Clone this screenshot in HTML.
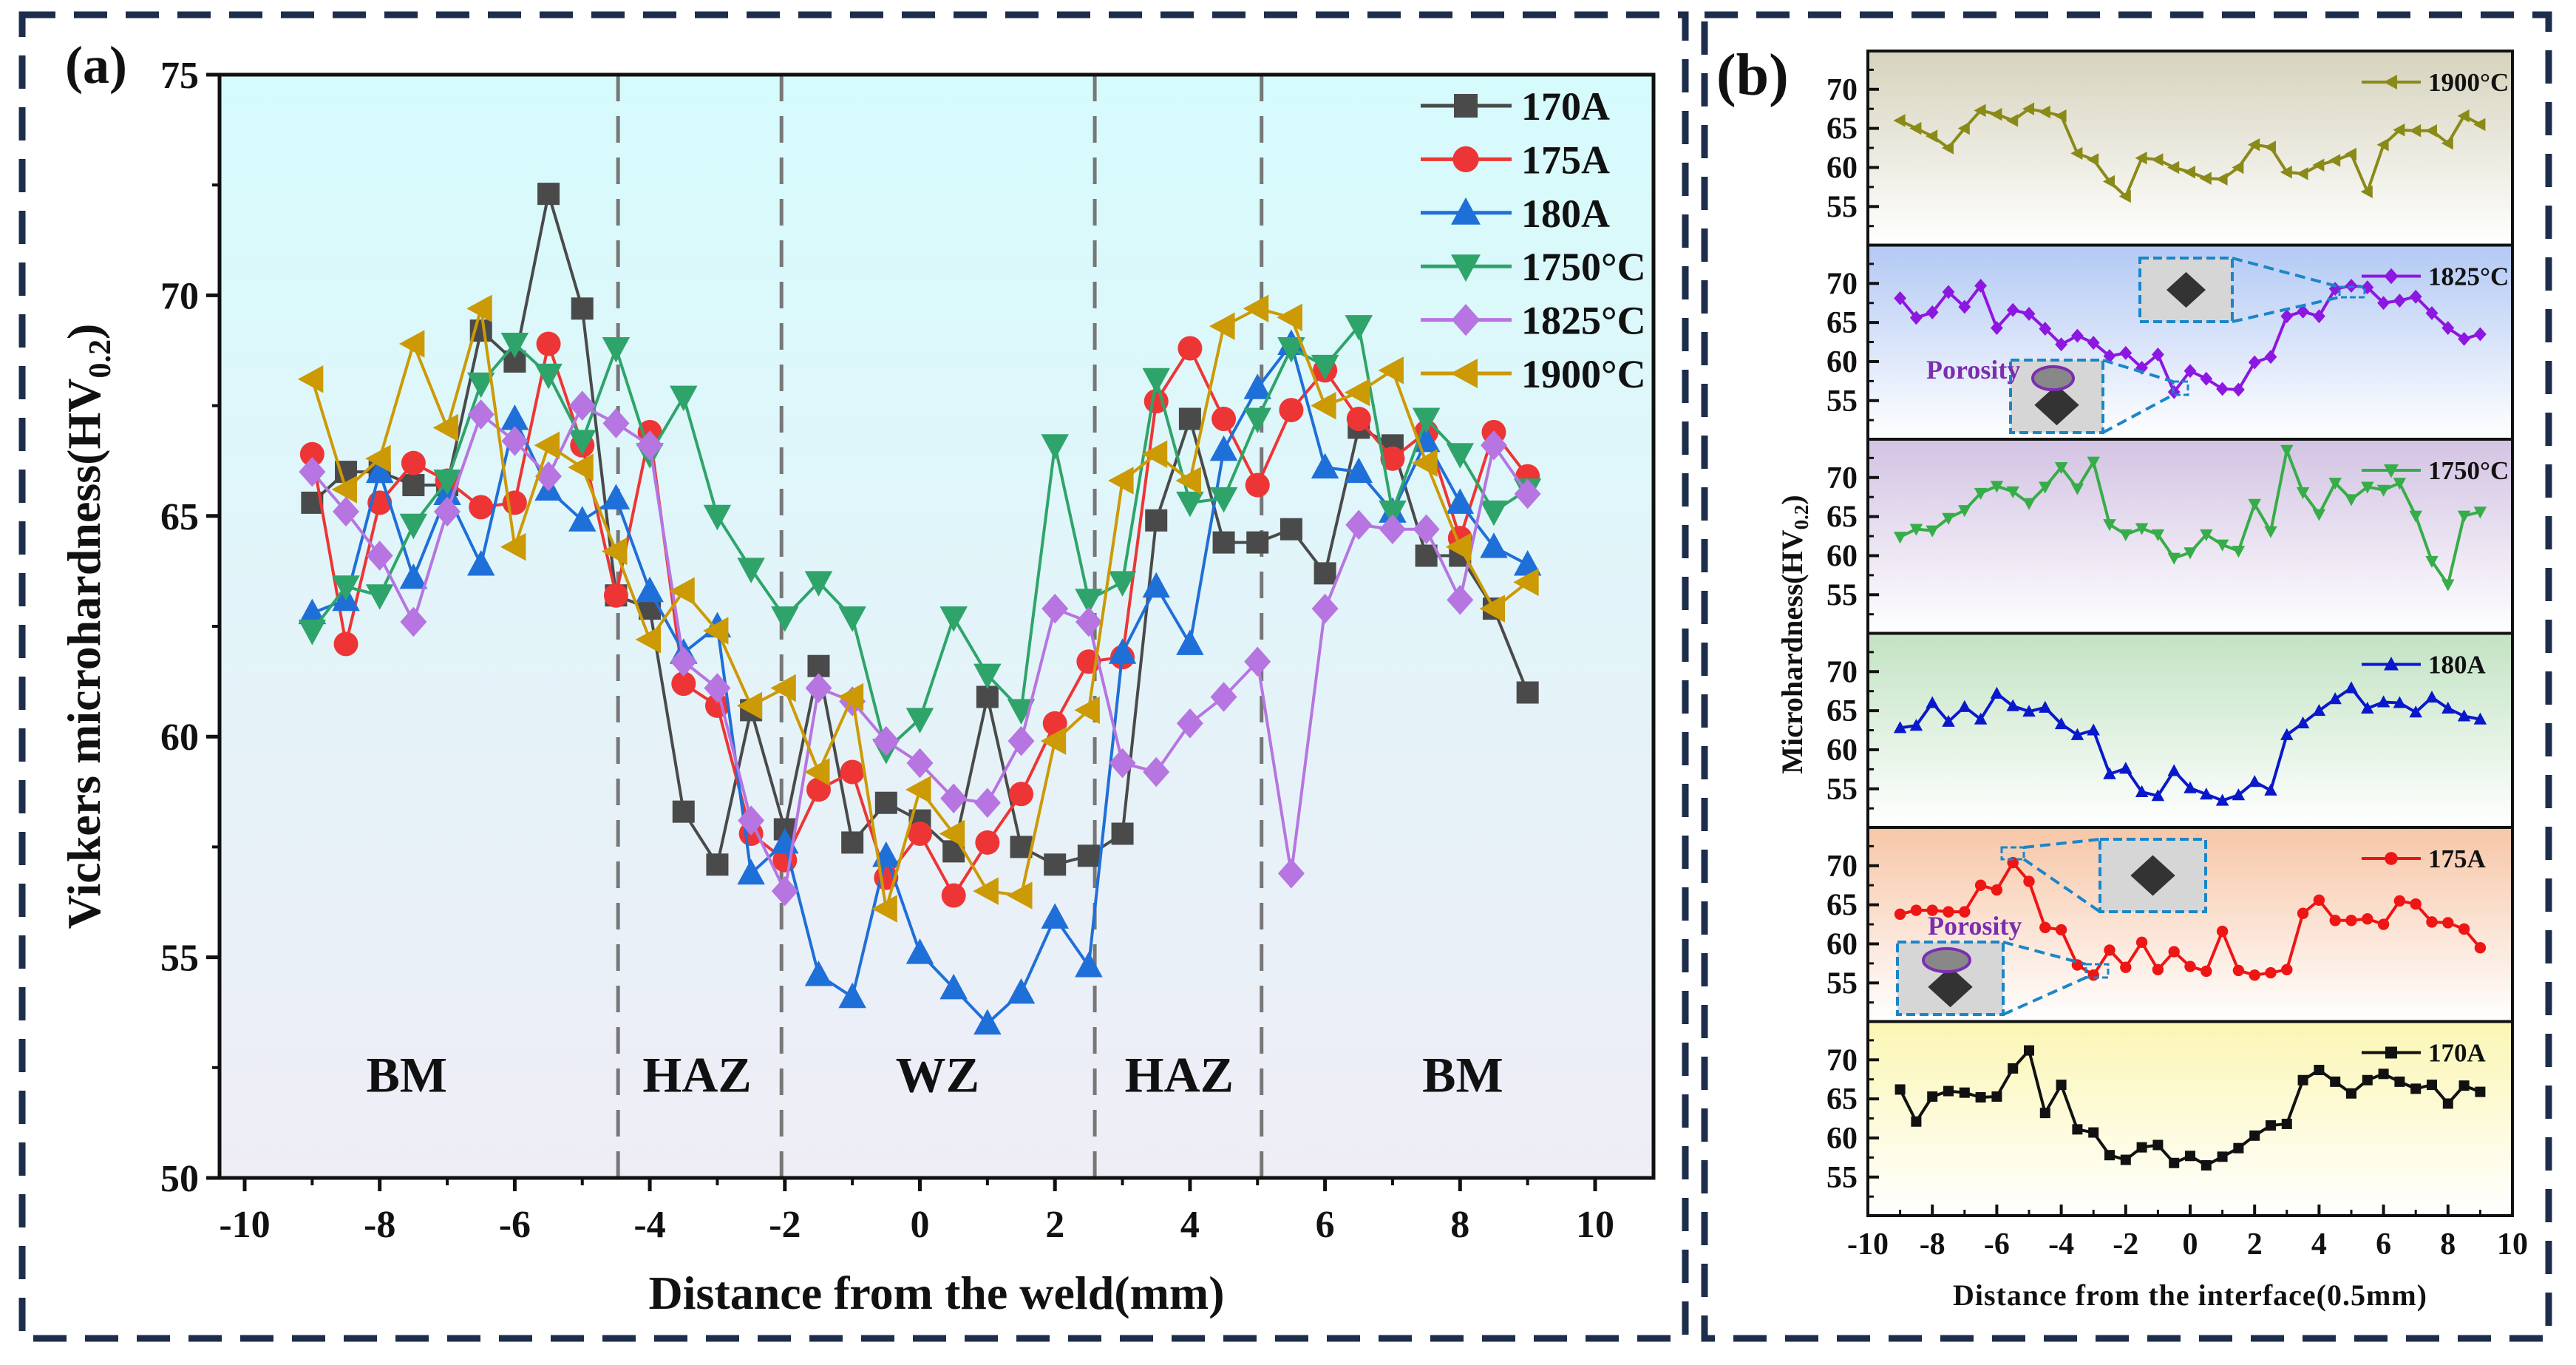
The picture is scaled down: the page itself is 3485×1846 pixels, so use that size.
<!DOCTYPE html>
<html><head><meta charset="utf-8"><style>
html,body{margin:0;padding:0;background:#fff;}
svg{display:block;font-family:"Liberation Serif",serif;font-weight:bold;}
</style></head><body>
<svg id="fig" width="3485" height="1846" viewBox="0 0 3485 1846" xmlns="http://www.w3.org/2000/svg">
<defs>
<linearGradient id="gA" x1="0" y1="0" x2="0" y2="1"><stop offset="0" stop-color="#d6fbfc"/><stop offset="1" stop-color="#efedf6"/></linearGradient>
<linearGradient id="g0" x1="0" y1="0" x2="0" y2="1"><stop offset="0" stop-color="#d6d3bd"/><stop offset="1" stop-color="#ffffff"/></linearGradient>
<linearGradient id="g1" x1="0" y1="0" x2="0" y2="1"><stop offset="0" stop-color="#b3c9f4"/><stop offset="1" stop-color="#ffffff"/></linearGradient>
<linearGradient id="g2" x1="0" y1="0" x2="0" y2="1"><stop offset="0" stop-color="#d3c3e3"/><stop offset="1" stop-color="#ffffff"/></linearGradient>
<linearGradient id="g3" x1="0" y1="0" x2="0" y2="1"><stop offset="0" stop-color="#c2e3c3"/><stop offset="1" stop-color="#ffffff"/></linearGradient>
<linearGradient id="g4" x1="0" y1="0" x2="0" y2="1"><stop offset="0" stop-color="#f7c6a7"/><stop offset="1" stop-color="#ffffff"/></linearGradient>
<linearGradient id="g5" x1="0" y1="0" x2="0" y2="1"><stop offset="0" stop-color="#fbf6b4"/><stop offset="1" stop-color="#ffffff"/></linearGradient>
</defs>
<rect x="30" y="20" width="2250" height="1790" fill="none" stroke="#1d2d4c" stroke-width="9" stroke-dasharray="45,25"/>
<rect x="2306" y="20" width="1142" height="1790" fill="none" stroke="#1d2d4c" stroke-width="9" stroke-dasharray="45,25"/>
<g id="pa"></g>
<g id="pb"></g>
</svg>
<script>
// ---------- Panel (a) data ----------
const xs = [-9,-8.5,-8,-7.5,-7,-6.5,-6,-5.5,-5,-4.5,-4,-3.5,-3,-2.5,-2,-1.5,-1,-0.5,0,0.5,1,1.5,2,2.5,3,3.5,4,4.5,5,5.5,6,6.5,7,7.5,8,8.5,9];
const a170 = [65.3,66.0,66.0,65.7,65.7,69.2,68.5,72.3,69.7,63.2,62.9,58.3,57.1,60.6,57.9,61.6,57.6,58.5,58.1,57.4,60.9,57.5,57.1,57.3,57.8,64.9,67.2,64.4,64.4,64.7,63.7,67.0,66.6,64.1,64.1,62.9,61.0];
const a175 = [66.4,62.1,65.3,66.2,65.8,65.2,65.3,68.9,66.6,63.2,66.9,61.2,60.7,57.8,57.2,58.8,59.2,56.8,57.8,56.4,57.6,58.7,60.3,61.7,61.8,67.6,68.8,67.2,65.7,67.4,68.3,67.2,66.3,66.9,64.5,66.9,65.9];
const a180 = [62.8,63.1,66.0,63.6,65.5,63.9,67.2,65.6,64.9,65.4,63.3,61.9,62.5,56.9,57.6,54.6,54.1,57.3,55.1,54.3,53.5,54.2,55.9,54.8,61.9,63.4,62.1,66.5,67.9,68.9,66.1,66.0,65.1,66.7,65.3,64.3,63.9];
const a1750 = [62.4,63.4,63.2,64.8,65.8,68.0,68.9,68.2,66.7,68.8,66.4,67.7,65.0,63.8,62.7,63.5,62.7,59.7,60.4,62.7,61.4,60.6,66.6,63.1,63.5,68.1,65.3,65.4,67.2,68.8,68.4,69.3,65.1,67.2,66.4,65.1,65.6];
const a1825 = [66.0,65.1,64.1,62.6,65.1,67.3,66.7,65.9,67.5,67.1,66.6,61.7,61.1,58.1,56.5,61.1,60.8,59.9,59.4,58.6,58.5,59.9,62.9,62.6,59.4,59.2,60.3,60.9,61.7,56.9,62.9,64.8,64.7,64.7,63.1,66.6,65.5];
const a1900 = [68.1,65.6,66.3,68.9,67.0,69.7,64.3,66.6,66.1,64.2,62.2,63.3,62.4,60.7,61.1,59.2,60.9,56.1,58.8,57.8,56.5,56.4,59.9,60.6,65.8,66.4,65.8,69.3,69.7,69.5,67.5,67.8,68.3,66.2,64.3,62.9,63.5];
const aNames = ["170A","175A","180A","1750°C","1825°C","1900°C"];
const xTicksA = [-10,-8,-6,-4,-2,0,2,4,6,8,10];
const yTicksA = [50,55,60,65,70,75];
const zoneLines = [-4.47,-2.05,2.59,5.06];
const zoneLabels = ["BM","HAZ","WZ","HAZ","BM"];
const zoneX = [-7.6,-3.3,0.26,3.84,8.04];
// ---------- Panel (b) data ----------
const b1900 = [66.0,65.0,64.0,62.5,65.0,67.3,66.8,66.0,67.5,67.1,66.6,61.8,61.0,58.2,56.3,61.2,61.0,60.0,59.4,58.6,58.5,60.0,62.9,62.6,59.4,59.2,60.3,60.9,61.7,56.9,62.9,64.8,64.7,64.7,63.1,66.6,65.5];
const b1825 = [68.1,65.6,66.3,68.9,67.0,69.7,64.3,66.6,66.1,64.2,62.2,63.3,62.4,60.7,61.1,59.2,60.9,56.1,58.8,57.8,56.5,56.4,59.9,60.6,65.8,66.4,65.8,69.3,69.7,69.5,67.5,67.8,68.3,66.2,64.3,62.9,63.5];
const b1750 = [62.4,63.4,63.2,64.8,65.8,68.0,68.9,68.2,66.7,68.8,71.3,68.6,72.0,64.0,62.7,63.5,62.7,59.7,60.4,62.7,61.4,60.6,66.6,63.1,73.5,68.1,65.3,69.3,67.2,68.8,68.4,69.3,65.1,59.3,56.3,65.1,65.6];
const b180 = [62.8,63.1,66.0,63.6,65.5,63.9,67.2,65.6,64.9,65.4,63.3,61.9,62.5,56.9,57.6,54.6,54.1,57.3,55.1,54.3,53.5,54.2,55.9,54.8,61.9,63.4,65.0,66.5,67.9,65.3,66.1,66.0,64.8,66.7,65.3,64.3,63.9];
const b175 = [63.8,64.3,64.3,64.1,64.1,67.5,66.9,70.4,68.0,62.1,61.8,57.3,56.0,59.2,57.0,60.2,56.7,59.0,57.1,56.5,61.6,56.6,56.0,56.3,56.7,63.9,65.6,63.0,63.0,63.2,62.5,65.5,65.1,62.8,62.7,61.9,59.5];
const b170 = [66.2,62.1,65.3,66.0,65.8,65.2,65.3,68.9,71.2,63.2,66.8,61.1,60.7,57.8,57.2,58.8,59.1,56.8,57.7,56.5,57.6,58.7,60.3,61.6,61.8,67.4,68.7,67.2,65.7,67.4,68.2,67.2,66.3,66.8,64.4,66.7,65.9];
const bNames = ["1900°C","1825°C","1750°C","180A","175A","170A"];
const xTicksB = [-10,-8,-6,-4,-2,0,2,4,6,8,10];
const yTicksB = [55,60,65,70];

const NS="http://www.w3.org/2000/svg";
function mk(parent,tag,attrs,text){const e=document.createElementNS(NS,tag);for(const k in attrs)e.setAttribute(k,attrs[k]);if(text!==undefined)e.textContent=text;parent.appendChild(e);return e;}
function marker(g,shape,cx,cy,s,fill){
  let e;
  if(shape==="sq") e=mk(g,"rect",{x:cx-s,y:cy-s,width:2*s,height:2*s,fill:fill});
  else if(shape==="ci") e=mk(g,"circle",{cx:cx,cy:cy,r:s*1.1,fill:fill});
  else if(shape==="tu") e=mk(g,"polygon",{points:`${cx},${cy-s*1.3} ${cx-s*1.25},${cy+s} ${cx+s*1.25},${cy+s}`,fill:fill});
  else if(shape==="td") e=mk(g,"polygon",{points:`${cx},${cy+s*1.3} ${cx-s*1.25},${cy-s} ${cx+s*1.25},${cy-s}`,fill:fill});
  else if(shape==="di") e=mk(g,"polygon",{points:`${cx},${cy-s*1.35} ${cx+s*1.2},${cy} ${cx},${cy+s*1.35} ${cx-s*1.2},${cy}`,fill:fill});
  else e=mk(g,"polygon",{points:`${cx-s*1.3},${cy} ${cx+s},${cy-s*1.25} ${cx+s},${cy+s*1.25}`,fill:fill});
  return e;
}

// ---------- Draw panel (a) ----------
(function(){
  const g=document.getElementById("pa");
  const L=297,R=2237,T=101,B=1593;
  const X=v=>331+(v+10)*(2158-331)/20;
  const Y=v=>B-(v-50)*(B-T)/25;
  const bg=mk(g,"rect",{x:L,y:T,width:R-L,height:B-T,fill:"url(#gA)"});
  
  
  zoneLines.forEach(z=>{
    const l=mk(g,"line",{x1:X(z),x2:X(z),y1:T,y2:B,stroke:"#777",'stroke-width':5,'stroke-dasharray':"36,20"});
    
    
  });
  zoneLabels.forEach((t,i)=>{
    const e=mk(g,"text",{x:X(zoneX[i]),y:Y(51.95),'font-size':68,'text-anchor':'middle',fill:'#111'},t);
    
    
  });
  const series=[a170,a175,a180,a1750,a1825,a1900];
  const cols=["#4a4a4a","#ee3535","#1f6fd8","#2fa46a","#b675e0","#cc9a05"];
  const shapes=["sq","ci","tu","td","di","tl"];
  series.forEach((arr,si)=>{
    const sg=mk(g,"g",{});
    
    
    mk(sg,"polyline",{points:arr.map((v,i)=>X(xs[i])+","+Y(v)).join(" "),fill:"none",stroke:cols[si],'stroke-width':4});
    arr.forEach((v,i)=>{
      const m=marker(sg,shapes[si],X(xs[i]),Y(v),15,cols[si]);
      
      
    });
  });
  const ax=mk(g,"rect",{x:L,y:T,width:R-L,height:B-T,fill:"none",stroke:"#111",'stroke-width':5});
  
  
  xTicksA.forEach(t=>{
    mk(g,"line",{x1:X(t),x2:X(t),y1:B,y2:B+18,stroke:"#111",'stroke-width':5});
    const e=mk(g,"text",{x:X(t),y:B+80,'font-size':52,'text-anchor':'middle',fill:'#111'},String(t));
    
    
  });
  for(let t=-9;t<=11;t+=2){ if(X(t)<R) mk(g,"line",{x1:X(t),x2:X(t),y1:B,y2:B+10,stroke:"#111",'stroke-width':4}); }
  yTicksA.forEach(t=>{
    mk(g,"line",{x1:L-18,x2:L,y1:Y(t),y2:Y(t),stroke:"#111",'stroke-width':5});
    const e=mk(g,"text",{x:L-28,y:Y(t)+18,'font-size':52,'text-anchor':'end',fill:'#111'},String(t));
    
    
  });
  for(let t=52.5;t<75;t+=5) mk(g,"line",{x1:L-10,x2:L,y1:Y(t),y2:Y(t),stroke:"#111",'stroke-width':4});
  const lg=mk(g,"g",{});
  
  
  aNames.forEach((n,i)=>{
    const y=143+i*72.4;
    const eg=mk(lg,"g",{});
    
    
    mk(eg,"line",{x1:1922,x2:2045,y1:y,y2:y,stroke:cols[i],'stroke-width':5});
    marker(eg,shapes[i],1983,y,16,cols[i]);
    mk(eg,"text",{x:2058,y:y+19,'font-size':54,fill:'#111'},n);
  });
  const tx=mk(g,"text",{x:1267,y:1770,'font-size':64,'text-anchor':'middle',fill:'#111'},"Distance from the weld(mm)");
  
  
  const ty=mk(g,"text",{transform:"translate(135,847) rotate(-90)",'font-size':64,'text-anchor':'middle',fill:'#111'});
  
  
  ty.innerHTML='Vickers microhardness(HV<tspan font-size="42" dy="14">0.2</tspan><tspan dy="-14">)</tspan>';
  const pl=mk(g,"text",{x:88,y:112,'font-size':72,fill:'#111'},"(a)");
  
  
})();

// ---------- Draw panel (b) ----------
(function(){
  const g=document.getElementById("pb");
  const L=2527,R=3399,T0=69,H=262.5;
  const X=v=>L+(v+10)*(R-L)/20;
  const series=[b1900,b1825,b1750,b180,b175,b170];
  const cols=["#8a8a18","#8d16e0","#36ad48","#0a18cc","#ee1515","#111111"];
  const shapes=["tl","di","td","tu","ci","sq"];
  const grads=["g0","g1","g2","g3","g4","g5"];
  series.forEach((arr,si)=>{
    const top=T0+si*H, bot=top+H;
    const Y=v=>bot-(v-50.06)*H/24.84;
    const sg=mk(g,"g",{});
    
    
    mk(sg,"rect",{x:L,y:top,width:R-L,height:H,fill:"url(#"+grads[si]+")"});
    yTicksB.forEach(t=>{
      mk(sg,"line",{x1:L,x2:L+15,y1:Y(t),y2:Y(t),stroke:"#111",'stroke-width':4});
      mk(sg,"line",{x1:L,x2:L+8,y1:Y(t-2.5),y2:Y(t-2.5),stroke:"#111",'stroke-width':3});
      const e=mk(sg,"text",{x:L-14,y:Y(t)+14,'font-size':42,'text-anchor':'end',fill:'#111'},String(t));
      
      
    });
    mk(sg,"line",{x1:L,x2:L+8,y1:Y(72.5),y2:Y(72.5),stroke:"#111",'stroke-width':3});
    mk(sg,"polyline",{points:arr.map((v,i)=>X(xs[i])+","+Y(v)).join(" "),fill:"none",stroke:cols[si],'stroke-width':4});
    arr.forEach((v,i)=>{
      const m=marker(sg,shapes[si],X(xs[i]),Y(v),7,cols[si]);
      
      
    });
    const ly=top+42;
    mk(sg,"line",{x1:3195,x2:3275,y1:ly,y2:ly,stroke:cols[si],'stroke-width':4});
    marker(sg,shapes[si],3235,ly,8,cols[si]);
    const lt=mk(sg,"text",{x:3285,y:ly+12,'font-size':35,fill:'#111'},bNames[si]);
    
    
    mk(sg,"rect",{x:L,y:top,width:R-L,height:H,fill:"none",stroke:"#111",'stroke-width':4});
  });
  const B=T0+6*H;
  for(let t=-9;t<10;t+=2) mk(g,"line",{x1:X(t),x2:X(t),y1:B,y2:B-8,stroke:"#111",'stroke-width':3});
  xTicksB.forEach(t=>{
    mk(g,"line",{x1:X(t),x2:X(t),y1:B,y2:B-15,stroke:"#111",'stroke-width':4});
    const e=mk(g,"text",{x:X(t),y:B+52,'font-size':42,'text-anchor':'middle',fill:'#111'},String(t));
    
    
  });
  const tx=mk(g,"text",{x:2963,y:1765,'font-size':40,'text-anchor':'middle',fill:'#111','letter-spacing':'1'},"Distance from the interface(0.5mm)");
  
  
  const ty=mk(g,"text",{transform:"translate(2438,858) rotate(-90)",'font-size':40,'text-anchor':'middle',fill:'#111'});
  
  
  ty.innerHTML='Microhardness(HV<tspan font-size="27" dy="8">0.2</tspan><tspan dy="-8">)</tspan>';
  const pl=mk(g,"text",{x:2322,y:128,'font-size':80,fill:'#111'},"(b)");
  
  
  function inset(x,y,w,h,name,por){
    const ig=mk(g,"g",{});
    
    
    mk(ig,"rect",{x:x,y:y,width:w,height:h,fill:"#d6d6d6",stroke:"#1a86c8",'stroke-width':4,'stroke-dasharray':"12,6"});
    const cx=x+w/2, cy=y+h*(por?0.62:0.5), s=h*0.28;
    mk(ig,"polygon",{points:`${cx},${cy-s} ${cx+s*1.1},${cy} ${cx},${cy+s} ${cx-s*1.1},${cy}`,fill:"#333"});
    if(por){ mk(ig,"ellipse",{cx:cx-5,cy:y+h*0.25,rx:w*0.22,ry:h*0.16,fill:"#888",stroke:"#7a2fb0",'stroke-width':4}); }
    return ig;
  }
  function conn(x1,y1,x2,y2){mk(g,"line",{x1:x1,y1:y1,x2:x2,y2:y2,stroke:"#1a86c8",'stroke-width':4,'stroke-dasharray':"14,8"});}
  inset(2895,349,125,86,"inset-indent-1825",false);
  mk(g,"rect",{x:3165,y:388,width:34,height:14,fill:"none",stroke:"#1a86c8",'stroke-width':3,'stroke-dasharray':"8,4"});
  conn(3020,349,3165,388); conn(3020,435,3165,402);
  inset(2720,487,125,98,"inset-porosity-1825",true);
  mk(g,"rect",{x:2940,y:516,width:20,height:18,fill:"none",stroke:"#1a86c8",'stroke-width':3,'stroke-dasharray':"8,4"});
  conn(2845,487,2940,516); conn(2845,585,2940,534);
  const p1=mk(g,"text",{x:2606,y:512,'font-size':36,fill:'#7a2fb0'},"Porosity");
  
  
  inset(2841,1135,143,98,"inset-indent-175",false);
  mk(g,"rect",{x:2708,y:1146,width:30,height:16,fill:"none",stroke:"#1a86c8",'stroke-width':3,'stroke-dasharray':"8,4"});
  conn(2738,1146,2841,1135); conn(2738,1162,2841,1233);
  inset(2567,1274,143,98,"inset-porosity-175",true);
  mk(g,"rect",{x:2822,y:1304,width:30,height:18,fill:"none",stroke:"#1a86c8",'stroke-width':3,'stroke-dasharray':"8,4"});
  conn(2710,1274,2822,1304); conn(2710,1372,2822,1322);
  const p2=mk(g,"text",{x:2608,y:1264,'font-size':36,fill:'#7a2fb0'},"Porosity");
  
  
})();
</script>
</body></html>
